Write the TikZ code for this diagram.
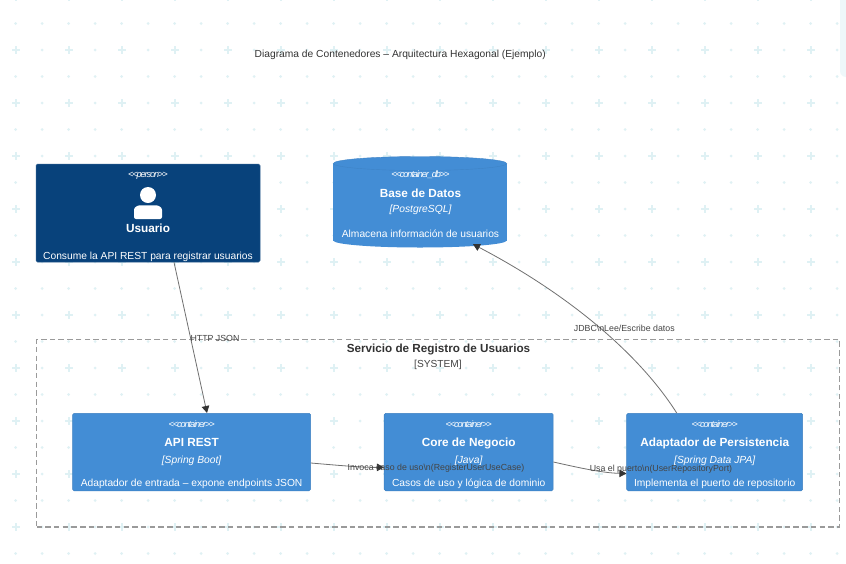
\documentclass[tikz,border=0pt]{standalone}
\usepackage{fontspec}
\setmainfont{Liberation Sans}
\newfontfamily\stereofont[LetterSpace=-12,ItalicFont={Liberation Sans Italic}]{Liberation Sans}
\usetikzlibrary{arrows.meta}
\definecolor{gridc}{HTML}{DFF1F4}
\definecolor{panelc}{HTML}{EEF7FA}
\definecolor{personc}{HTML}{08427B}
\definecolor{contc}{HTML}{438DD5}
\definecolor{contb}{HTML}{3C7FC0}
\definecolor{linec}{HTML}{707070}
\definecolor{tipc}{HTML}{333333}
\definecolor{textc}{HTML}{444444}
\definecolor{bndc}{HTML}{9A9A9A}
\tikzset{
  x=1pt,y=-1pt,
  personbox/.style={fill=personc,draw=personc!85!white,line width=.5pt,rounded corners=1.5pt,inner sep=0pt},
  contbox/.style={fill=contc,draw=contb,line width=.5pt,rounded corners=1.5pt,inner sep=0pt},
  sysbox/.style={draw=bndc,line width=1.2pt,dash pattern=on 5.5pt off 3.2pt,inner sep=0pt},
  conn/.style={draw=linec,line width=.8pt,-{Triangle[length=7pt,width=7.5pt,fill=tipc,color=tipc]}},
  lbase/.style={anchor=base,inner sep=0pt,text=white},
  stereo/.style={lbase,font=\fontsize{9.2}{10}\stereofont\itshape},
  ttl/.style={lbase,font=\fontsize{11.8}{13}\selectfont\bfseries},
  tech/.style={lbase,font=\fontsize{10.3}{12}\selectfont\itshape},
  descr/.style={lbase,font=\fontsize{10.25}{12}\selectfont},
  edgelbl/.style={anchor=base,inner sep=0pt,text=textc,font=\fontsize{8.8}{10}\selectfont},
}
\newcommand{\boxat}[5]{\node[#1,minimum width=#4 pt,minimum height=#5 pt] (#2) at (#3) {};}
\begin{document}
\begin{tikzpicture}
\useasboundingbox (0,0) rectangle (846,563);
\fill[white] (0,0) rectangle (846,563);
% background pattern
\foreach \yy in {23.5,76.5,...,560}
  \foreach \xx in {15.7,42.2,...,840}
    \fill[gridc] (\xx,\yy) circle[radius=1.5];
\foreach \yy in {-3,50,...,560}{
  \foreach \xx in {42.2,95.2,...,840}
    \fill[gridc] (\xx,\yy) circle[radius=1.5];
  \foreach \xx in {15.7,68.7,...,840}{
    \fill[gridc] (\xx-3.8,\yy-1) rectangle (\xx+3.8,\yy+1);
    \fill[gridc] (\xx-1,\yy-3.8) rectangle (\xx+1,\yy+3.8);
  }
}
\fill[panelc,rounded corners=6pt] (840,-10) rectangle (860,77);
% title
\node[anchor=base,inner sep=0pt,text=black!80,font=\fontsize{10.25}{12}\selectfont] (title) at (400.3,57) {Diagrama de Contenedores – Arquitectura Hexagonal (Ejemplo)};
% system boundary
\boxat{sysbox}{sys}{438,433.2}{803}{187.5}
\node[anchor=base,inner sep=0pt,text=black!80,font=\fontsize{11.7}{13}\selectfont\bfseries] (systitle) at (438.5,352) {Servicio de Registro de Usuarios};
\node[anchor=base,inner sep=0pt,text=textc,font=\fontsize{10.2}{12}\selectfont] (systag) at (438,367) {[SYSTEM]};
% person
\boxat{personbox}{usuario}{148,213}{224}{98}
\node[stereo] (u1) at (148,177.5) {<<person>>};
\fill[white] (148,195) circle[radius=8];
\fill[white,rounded corners=2pt] (134,219) -- (134,212) .. controls (134,207) and (138,205.3) .. (142,205.3) -- (154,205.3) .. controls (158,205.3) and (162,207) .. (162,212) -- (162,219) -- cycle;
\node[ttl] (u2) at (148,232.7) {Usuario};
\node[descr] (u3) at (148,259) {Consume la API REST para registrar usuarios};
% database
\node[inner sep=0pt,minimum width=174pt,minimum height=92pt] (db) at (420,202) {};
\fill[contc] (420,240.5) ellipse[x radius=86.7,y radius=7];
\fill[contc] (333.3,163.5) rectangle (506.7,240.5);
\filldraw[fill=contc,draw=contb!70!contc,line width=.4pt] (420,163.5) ellipse[x radius=86.7,y radius=7];
\node[stereo] (d1) at (420.5,177.7) {<<container\_db>>};
\node[ttl] (d2) at (420.5,197.7) {Base de Datos};
\node[tech] (d3) at (420.5,212.7) {[PostgreSQL]};
\node[descr] (d4) at (420.5,237.7) {Almacena información de usuarios};
% containers
\boxat{contbox}{api}{191.6,452}{238}{77.5}
\node[stereo] (a1) at (191.6,427.7) {<<container>>};
\node[ttl] (a2) at (191.6,446.7) {API REST};
\node[tech] (a3) at (191.6,463.3) {[Spring Boot]};
\node[descr] (a4) at (191.6,486.7) {Adaptador de entrada – expone endpoints JSON};
\boxat{contbox}{core}{468.7,452}{169}{77.5}
\node[stereo] (c1) at (468.7,427.7) {<<container>>};
\node[ttl] (c2) at (468.7,446.7) {Core de Negocio};
\node[tech] (c3) at (468.7,463.3) {[Java]};
\node[descr] (c4) at (468.7,486.7) {Casos de uso y lógica de dominio};
\boxat{contbox}{adapter}{714.7,452}{176}{77.5}
\node[stereo] (p1) at (714.7,427.7) {<<container>>};
\node[ttl] (p2) at (714.7,446.7) {Adaptador de Persistencia};
\node[tech] (p3) at (714.7,463.3) {[Spring Data JPA]};
\node[descr] (p4) at (714.7,486.7) {Implementa el puerto de repositorio};
% connectors
\draw[conn] ([xshift=26pt]usuario.south) -- ([xshift=15.4pt]api.north);
\draw[conn] ([yshift=-11pt]api.east) .. controls (340,465.5) and (362,467.5) .. ([yshift=-15.3pt]core.west);
\draw[conn] ([yshift=-10pt]core.east) .. controls (580,468) and (603,473) .. ([yshift=-21.5pt]adapter.west);
\draw[conn] ([xshift=-38pt]adapter.north) .. controls (640,355) and (570,295) .. ([xshift=53pt,yshift=4pt]db.south);
% edge labels
\node[edgelbl] (e1) at (215,341.7) {HTTP JSON};
\node[edgelbl] (e2) at (436,470) {Invoca caso de uso\textbackslash n(RegisterUserUseCase)};
\node[edgelbl] (e3) at (661,471.7) {Usa el puerto\textbackslash n(UserRepositoryPort)};
\node[edgelbl] (e4) at (624.3,331) {JDBC\textbackslash nLee/Escribe datos};
\end{tikzpicture}
\end{document}
